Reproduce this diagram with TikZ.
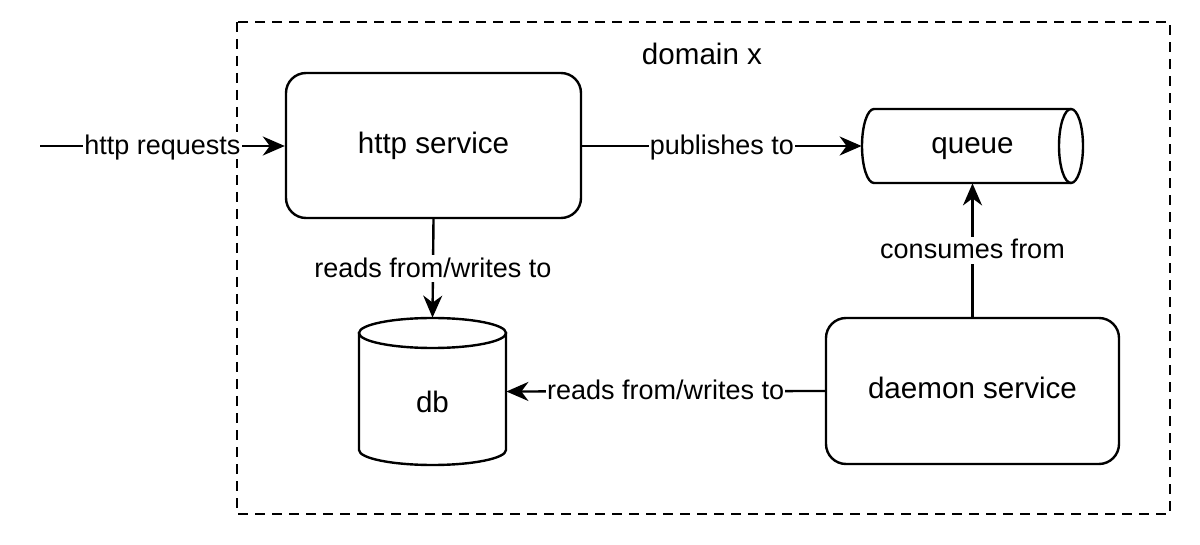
\documentclass[tikz,border=0pt]{standalone}
\usepackage{fontspec}
\setmainfont{Liberation Sans}
\usetikzlibrary{arrows.meta}
\tikzset{
  ntxt/.style={text height=11.5pt, text depth=3.5pt},
  ltxt/.style={text height=10.5pt, text depth=1.8pt},
  box/.style={draw, line width=1.2pt, rounded corners=10pt, align=center, ntxt, font=\fontsize{14.8}{17}\selectfont},
  cyl/.style={inner sep=0pt, ntxt, font=\fontsize{14.8}{17}\selectfont},
  outline/.style={draw, line width=1.2pt, fill=white},
  arr/.style={draw, line width=1.2pt, -{Stealth[length=11pt,width=9.5pt,inset=3.5pt]}},
  lbl/.style={fill=white, inner sep=0.6pt, ltxt, font=\fontsize{13.5}{16}\selectfont},
}
\begin{document}
\begin{tikzpicture}[x=0.5pt,y=-0.5pt]
\useasboundingbox[fill=white] (0,0) rectangle (1200,545);
% domain frame
\draw[line width=1.2pt, dash pattern=on 5pt off 3.5pt] (237,22) rectangle (1170,514);
\node[anchor=base, inner sep=0pt, font=\fontsize{14.8}{17}\selectfont] (domain) at (702,65) {domain x};
% nodes
\node[box, minimum width=147.5pt, minimum height=72.5pt] (http) at (433.5,145.5) {http service};
\node[box, minimum width=146.5pt, minimum height=73pt] (daemon) at (972.5,391) {daemon service};
% queue (horizontal cylinder)
\path[outline] (874,109) -- (1071,109) arc (-90:90:12 and 37) -- (874,183) arc (90:270:12 and 37) -- cycle;
\draw[line width=1.2pt] (1071,109) arc (-90:-270:12 and 37);
\node[cyl, minimum width=110.5pt, minimum height=37pt] (queue) at (972.5,146) {queue};
% db (vertical cylinder)
\path[outline] (359,333) -- (359,450) arc (180:0:73.5 and 15) -- (506,333) -- cycle;
\draw[line width=1.2pt, fill=white] (432.5,333) ellipse (73.5 and 15);
\node[cyl, text height=23pt, text depth=1.5pt, minimum width=73.5pt, minimum height=73.5pt] (db) at (432.5,391.5) {db};
% connectors
\coordinate (src) at (40,146);
\draw[arr] (src) -- node[lbl]{http requests} (http.west |- src);
\draw[arr] (http.east |- queue.west) -- node[lbl]{publishes to} (queue.west);
\draw[arr] (http.south) -- node[lbl]{reads from/writes to} (db.north);
\draw[arr] (daemon.north) -- node[lbl]{consumes from} (queue.south -| daemon.north);
\draw[arr] (daemon.west) -- node[lbl]{reads from/writes to} (db.east);
\end{tikzpicture}
\end{document}
